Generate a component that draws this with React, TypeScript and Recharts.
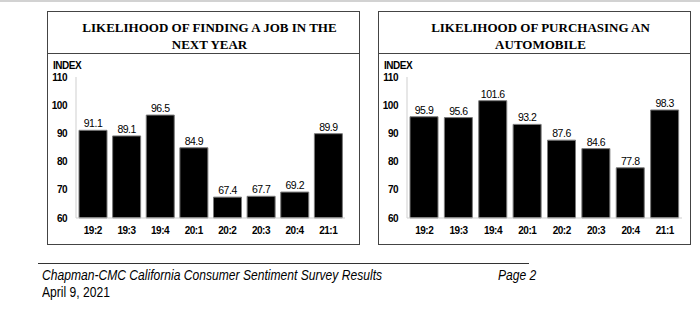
import React from 'react';
import { BarChart, Bar, XAxis, YAxis, LabelList } from 'recharts';

const categories = ['19:2', '19:3', '19:4', '20:1', '20:2', '20:3', '20:4', '21:1'];
const jobValues = [91.1, 89.1, 96.5, 84.9, 67.4, 67.7, 69.2, 89.9];
const autoValues = [95.9, 95.6, 101.6, 93.2, 87.6, 84.6, 77.8, 98.3];
const yTicks = [60, 70, 80, 90, 100, 110];
const jobTitle = ['LIKELIHOOD OF FINDING A JOB IN THE', 'NEXT YEAR'];
const autoTitle = ['LIKELIHOOD OF PURCHASING AN', 'AUTOMOBILE'];

const SANS = '"Liberation Sans", Arial, sans-serif';
const SERIF = '"Liberation Serif", "Times New Roman", serif';

type PanelProps = {
  left: number;
  width: number;
  rightMargin: number;
  title: string[];
  values: number[];
};

const tickStyle = { fontFamily: SANS, fontWeight: 'bold', fontSize: 10, fill: '#000', letterSpacing: -0.5 };

function Panel({ left, width, rightMargin, title, values }: PanelProps) {
  const data = categories.map((c, i) => ({ cat: c, value: values[i] }));
  return (
    <>
      <div
        style={{
          position: 'absolute',
          left,
          top: 11,
          width,
          height: 234,
          boxSizing: 'border-box',
          border: '1px solid #444',
        }}
      >
        <div
          style={{
            position: 'absolute',
            left: 0,
            top: 0,
            width: width - 2,
            height: 42,
            boxSizing: 'border-box',
            borderBottom: '1px solid #444',
            paddingLeft: 12,
            paddingTop: 8,
            textAlign: 'center',
            fontFamily: SERIF,
            fontWeight: 'bold',
            fontSize: 13,
            lineHeight: '16.5px',
            color: '#000',
          }}
        >
          {title.map((t) => (
            <div key={t}>{t}</div>
          ))}
        </div>
        <div
          style={{
            position: 'absolute',
            left: 5,
            top: 48,
            fontFamily: SANS,
            fontWeight: 'bold',
            fontSize: 10,
            letterSpacing: -0.5,
            lineHeight: '11px',
            color: '#000',
          }}
        >
          INDEX
        </div>
      </div>
      <div style={{ position: 'absolute', left, top: 54 }}>
        <BarChart
          width={width}
          height={190}
          data={data}
          margin={{ top: 23, right: rightMargin, left: 0, bottom: 0 }}
          barSize={28}
        >
          <XAxis
            dataKey="cat"
            height={26}
            tickSize={0}
            tickMargin={9}
            axisLine={{ stroke: '#cfcfcf' }}
            tick={tickStyle}
            interval={0}
          />
          <XAxis
            xAxisId="top"
            dataKey="cat"
            orientation="top"
            height={0}
            tick={false}
            tickLine={false}
            axisLine={{ stroke: '#cfcfcf' }}
          />
          <YAxis
            width={29}
            domain={[60, 110]}
            ticks={yTicks}
            tickSize={0}
            tickMargin={9}
            axisLine={{ stroke: '#cfcfcf' }}
            tick={tickStyle}
          />
          <YAxis
            yAxisId="right"
            orientation="right"
            width={0}
            domain={[60, 110]}
            tick={false}
            tickLine={false}
            axisLine={{ stroke: '#cfcfcf' }}
          />
          <Bar dataKey="value" fill="#000" stroke="#7a7a7a" strokeWidth={1} isAnimationActive={false}>
            <LabelList
              dataKey="value"
              position="top"
              offset={3}
              style={{ fontFamily: SANS, fontSize: 10.5, fill: '#000', letterSpacing: -0.5 }}
              formatter={(v: number) => v.toFixed(1)}
            />
          </Bar>
        </BarChart>
      </div>
    </>
  );
}

const footerText: React.CSSProperties = {
  position: 'absolute',
  fontFamily: SANS,
  fontSize: 14.5,
  lineHeight: '17px',
  color: '#000',
  whiteSpace: 'nowrap',
  transform: 'scaleX(0.834)',
  transformOrigin: 'left center',
};

export default function App() {
  return (
    <div
      style={{
        position: 'absolute',
        left: 0,
        top: 0,
        width: 700,
        height: 324,
        background: '#fff',
        overflow: 'hidden',
      }}
    >
      <div style={{ position: 'absolute', left: 0, top: 0, width: 700, height: 2, background: '#d2d2d2' }} />
      <Panel left={47} width={313} rightMargin={15} title={jobTitle} values={jobValues} />
      <Panel left={378} width={313} rightMargin={9} title={autoTitle} values={autoValues} />
      <div style={{ position: 'absolute', left: 38, top: 263, width: 491, height: 1, background: '#333' }} />
      <div style={{ ...footerText, left: 42, top: 267, fontStyle: 'italic' }}>
        Chapman-CMC California Consumer Sentiment Survey Results
      </div>
      <div style={{ ...footerText, left: 498, top: 267, fontStyle: 'italic' }}>Page 2</div>
      <div style={{ ...footerText, left: 42, top: 284 }}>April 9, 2021</div>
    </div>
  );
}
